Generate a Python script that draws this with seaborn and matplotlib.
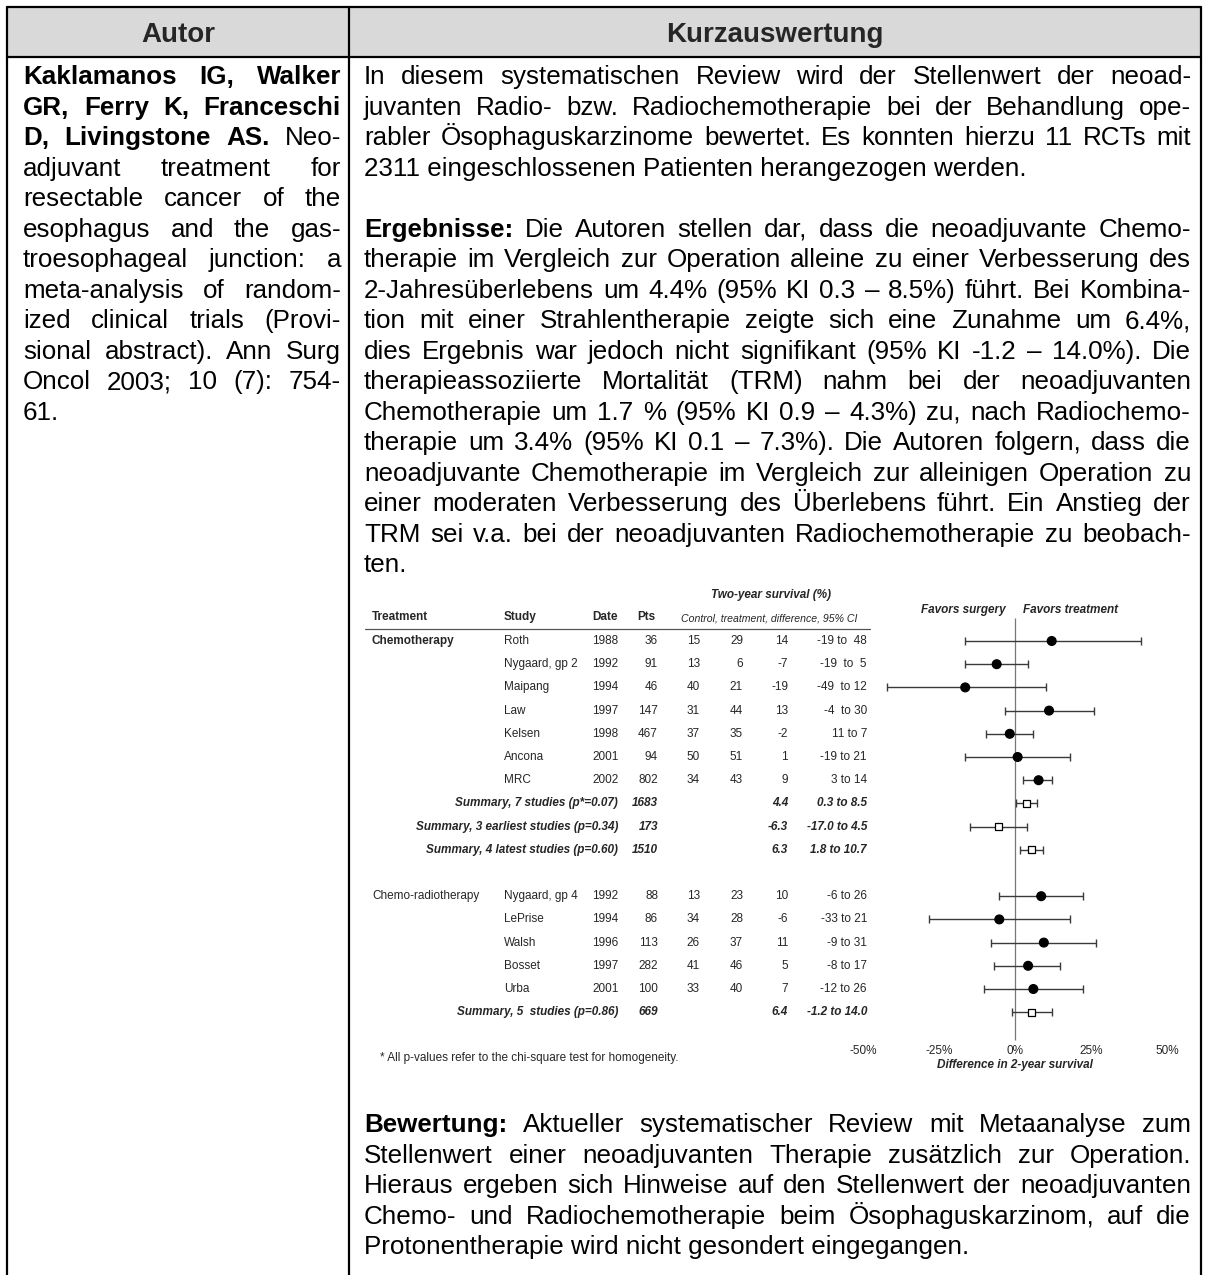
import numpy as np
import pandas as pd
import matplotlib
matplotlib.use("Agg")
import matplotlib.pyplot as plt
import matplotlib.transforms as mtransforms
from matplotlib.patches import Rectangle
import seaborn as sns

sns.set_theme(style="white")
plt.rcParams["font.family"] = ["Liberation Sans", "DejaVu Sans"]

# ---------------- forest plot data: two-year survival (%) ----------------
group_labels = ["Chemotherapy", "Chemo-radiotherapy"]
group_rows = [0, 11]
studies = ["Roth", "Nygaard, gp 2", "Maipang", "Law", "Kelsen", "Ancona", "MRC",
           "Summary, 7 studies (p*=0.07)", "Summary, 3 earliest studies (p=0.34)",
           "Summary, 4 latest studies (p=0.60)",
           "Nygaard, gp 4", "LePrise", "Walsh", "Bosset", "Urba",
           "Summary, 5  studies (p=0.86)"]
is_summary = [False] * 7 + [True] * 3 + [False] * 5 + [True]
rows = [0, 1, 2, 3, 4, 5, 6, 7, 8, 9, 11, 12, 13, 14, 15, 16]
years = ["1988", "1992", "1994", "1997", "1998", "2001", "2002", "", "", "",
         "1992", "1994", "1996", "1997", "2001", ""]
patients = ["36", "91", "46", "147", "467", "94", "802", "1683", "173", "1510",
            "88", "86", "113", "282", "100", "669"]
control = ["15", "13", "40", "31", "37", "50", "34", "", "", "",
           "13", "34", "26", "41", "33", ""]
treated = ["29", "6", "21", "44", "35", "51", "43", "", "", "",
           "23", "28", "37", "46", "40", ""]
difference = [14, -7, -19, 13, -2, 1, 9, 4.4, -6.3, 6.3, 10, -6, 11, 5, 7, 6.4]
ci_low = [-19, -19, -49, -4, -11, -19, 3, 0.3, -17.0, 1.8, -6, -33, -9, -8, -12, -1.2]
ci_high = [48, 5, 12, 30, 7, 21, 14, 8.5, 4.5, 10.7, 26, 21, 31, 17, 26, 14.0]
ci_text = ["-19 to  48", "-19  to  5", "-49  to 12", "-4  to 30", "11 to 7",
           "-19 to 21", "3 to 14", "0.3 to 8.5", "-17.0 to 4.5", "1.8 to 10.7",
           "-6 to 26", "-33 to 21", "-9 to 31", "-8 to 17", "-12 to 26",
           "-1.2 to 14.0"]
diff_text = ["14", "-7", "-19", "13", "-2", "1", "9", "4.4", "-6.3", "6.3",
             "10", "-6", "11", "5", "7", "6.4"]
axis_ticks = [-50, -25, 0, 25, 50]
axis_tick_labels = ["-50%", "-25%", "0%", "25%", "50%"]

# ---------------- document text ----------------
header_left = "Autor"
header_right = "Kurzauswertung"

left_lines = [
    [("Kaklamanos IG, Walker", True)],
    [("GR, Ferry K, Franceschi", True)],
    [("D, Livingstone AS.", True), ("Neo-", False)],
    [("adjuvant treatment for", False)],
    [("resectable cancer of the", False)],
    [("esophagus and the gas-", False)],
    [("troesophageal junction: a", False)],
    [("meta-analysis of random-", False)],
    [("ized clinical trials (Provi-", False)],
    [("sional abstract). Ann Surg", False)],
    [("Oncol 2003; 10 (7): 754-", False)],
    [("61.", False)],
]

para_intro = [
    [("In diesem systematischen Review wird der Stellenwert der neoad-", False)],
    [("juvanten Radio- bzw. Radiochemotherapie bei der Behandlung ope-", False)],
    [("rabler Ösophaguskarzinome bewertet. Es konnten hierzu 11 RCTs mit", False)],
    [("2311 eingeschlossenen Patienten herangezogen werden.", False)],
]
para_results = [
    [("Ergebnisse:", True), ("Die Autoren stellen dar, dass die neoadjuvante Chemo-", False)],
    [("therapie im Vergleich zur Operation alleine zu einer Verbesserung des", False)],
    [("2-Jahresüberlebens um 4.4% (95% KI 0.3 – 8.5%) führt. Bei Kombina-", False)],
    [("tion mit einer Strahlentherapie zeigte sich eine Zunahme um 6.4%,", False)],
    [("dies Ergebnis war jedoch nicht signifikant (95% KI -1.2 – 14.0%). Die", False)],
    [("therapieassoziierte Mortalität (TRM) nahm bei der neoadjuvanten", False)],
    [("Chemotherapie um 1.7 % (95% KI 0.9 – 4.3%) zu, nach Radiochemo-", False)],
    [("therapie um 3.4% (95% KI 0.1 – 7.3%). Die Autoren folgern, dass die", False)],
    [("neoadjuvante Chemotherapie im Vergleich zur alleinigen Operation zu", False)],
    [("einer moderaten Verbesserung des Überlebens führt. Ein Anstieg der", False)],
    [("TRM sei v.a. bei der neoadjuvanten Radiochemotherapie zu beobach-", False)],
    [("ten.", False)],
]
para_rating = [
    [("Bewertung:", True), ("Aktueller systematischer Review mit Metaanalyse zum", False)],
    [("Stellenwert einer neoadjuvanten Therapie zusätzlich zur Operation.", False)],
    [("Hieraus ergeben sich Hinweise auf den Stellenwert der neoadjuvanten", False)],
    [("Chemo- und Radiochemotherapie beim Ösophaguskarzinom, auf die", False)],
    [("Protonentherapie wird nicht gesondert eingegangen.", False)],
]

# ---------------- page layout ----------------
W, H = 1208, 1275
fig = plt.figure(figsize=(W / 100, H / 100), dpi=100)
page = fig.add_axes([0, 0, 1, 1])
page.set_xlim(0, W)
page.set_ylim(H, 0)
page.axis("off")

frame_l, frame_r, divider = 7, 1201, 349
frame_t, head_b = 7, 57
body_size = 18.7
head_size = 20.0
pitch = 30.5
baseline_shift = 9.3
first_line = 75

page.add_patch(Rectangle((frame_l, frame_t), frame_r - frame_l, head_b - frame_t,
                         facecolor="#d9d9d9", edgecolor="none", zorder=0))
lw = 1.6
page.plot([frame_l, frame_r], [frame_t, frame_t], color="black", lw=lw)
page.plot([frame_l, frame_r], [head_b, head_b], color="black", lw=lw)
for xv in (frame_l, divider, frame_r):
    page.plot([xv, xv], [frame_t, H], color="black", lw=lw)

page.text((frame_l + divider) / 2, 33 + baseline_shift, header_left, ha="center",
          va="baseline", fontsize=head_size, fontweight="bold")
page.text((divider + frame_r) / 2, 33 + baseline_shift, header_right, ha="center",
          va="baseline", fontsize=head_size, fontweight="bold")

renderer = fig.canvas.get_renderer()


def text_width(s, bold, size):
    t = page.text(0, 0, s, fontsize=size, fontweight="bold" if bold else "normal")
    w = t.get_window_extent(renderer).width
    t.remove()
    return w


space_w = text_width("x x", False, body_size) - text_width("xx", False, body_size)


def draw_line(segments, x0, x1, yc, justify):
    words = []
    for txt, bold in segments:
        for w in txt.split():
            words.append((w, bold))
    if not justify and all(not b for _, b in words):
        page.text(x0, yc + baseline_shift, " ".join(w for w, _ in words),
                  fontsize=body_size, va="baseline", color="black")
        return
    widths = [text_width(w, b, body_size) for w, b in words]
    if justify and len(words) > 1:
        gap = (x1 - x0 - sum(widths)) / (len(words) - 1)
    else:
        gap = space_w
    x = x0
    for (w, b), wd in zip(words, widths):
        page.text(x, yc + baseline_shift, w, fontsize=body_size, va="baseline",
                  fontweight="bold" if b else "normal", color="black")
        x += wd + gap


def draw_paragraph(lines, x0, x1, y_first):
    for i, seg in enumerate(lines):
        draw_line(seg, x0, x1, y_first + i * pitch, justify=(i < len(lines) - 1))


left_x0, left_x1 = 23, 341
right_x0, right_x1 = 364, 1191

draw_paragraph(left_lines, left_x0, left_x1, first_line)
draw_paragraph(para_intro, right_x0, right_x1, first_line)
draw_paragraph(para_results, right_x0, right_x1, first_line + 5 * pitch)
draw_paragraph(para_rating, right_x0, right_x1, 1123)

# ---------------- forest plot ----------------
zero_px, pct_px = 1015, 2.62
row0_px, row_px = 641, 23.2
ax_l, ax_r, ax_t, ax_b = 845, 1185, 600, 1043
fax = fig.add_axes([ax_l / W, 1 - ax_b / H, (ax_r - ax_l) / W, (ax_b - ax_t) / H])
fax.set_xlim((ax_l - zero_px) / pct_px, (ax_r - zero_px) / pct_px)
fax.set_ylim((ax_b - row0_px) / row_px, (ax_t - row0_px) / row_px)
fax.patch.set_alpha(0)

df = pd.DataFrame({
    "study": studies, "row": rows, "difference": difference,
    "low": ci_low, "high": ci_high,
    "kind": ["summary" if s else "study" for s in is_summary],
})

ink = "#262626"
fax.vlines(0, -1.0, 17.2, color="#777777", lw=0.9, zorder=1)
fax.errorbar(df["difference"], df["row"],
             xerr=[df["difference"] - df["low"], df["high"] - df["difference"]],
             fmt="none", ecolor="#3a3a3a", elinewidth=1.0, capsize=3.0,
             capthick=1.0, zorder=2)
sns.scatterplot(data=df, x="difference", y="row", hue="kind", style="kind",
                size="kind", sizes={"study": 40, "summary": 28},
                markers={"study": "o", "summary": "s"},
                palette={"study": "black", "summary": "white"},
                edgecolor="black", linewidth=0.9, legend=False, ax=fax, zorder=3)
fax.set_yticks([])
fax.set_xticks([])
fax.set_xlabel("")
fax.set_ylabel("")
sns.despine(ax=fax, left=True, bottom=True)

# the printed axis is spread a little wider than the plotted intervals
label_spread = 1.16
sec = fax.secondary_xaxis("bottom", functions=(lambda v: v / label_spread,
                                               lambda v: v * label_spread))
sec.set_xticks(axis_ticks)
sec.set_xticklabels(axis_tick_labels, fontsize=8.5, color=ink)
sec.tick_params(axis="x", length=0, pad=1.5)
sec.spines["bottom"].set_visible(False)
sec.set_xlabel("Difference in 2-year survival", fontsize=8.5, fontweight="bold",
               fontstyle="italic", color=ink, labelpad=1.5)

fav_y = (610 - row0_px) / row_px
fax.text(-3.5, fav_y, "Favors surgery", ha="right", va="center", fontsize=8.5,
         fontweight="bold", fontstyle="italic", color=ink)
fax.text(3.2, fav_y, "Favors treatment", ha="left", va="center", fontsize=8.5,
         fontweight="bold", fontstyle="italic", color=ink)

# table beside the forest plot: x in page pixels, y in forest rows
blend = mtransforms.blended_transform_factory(page.transData, fax.transData)
tsize = 8.5


def cell(x, r, s, ha="left", bold=False, italic=False, size=tsize):
    page.text(x, r, s, transform=blend, ha=ha, va="center", fontsize=size,
              fontweight="bold" if bold else "normal",
              fontstyle="italic" if italic else "normal", color=ink)


title_row = (595 - row0_px) / row_px
head_row = (617 - row0_px) / row_px
rule_row = (629 - row0_px) / row_px
cell(771, title_row, "Two-year survival (%)", ha="center", bold=True, italic=True)
cell(372, head_row, "Treatment", bold=True)
cell(504, head_row, "Study", bold=True)
cell(592, head_row, "Date", bold=True)
cell(637, head_row, "Pts", bold=True)
cell(681, head_row + 0.05, "Control, treatment, difference, 95% CI", italic=True, size=7.6)
page.plot([365, 870], [rule_row, rule_row], transform=blend, color="#555555", lw=0.9)

for lab, r, b in zip(group_labels, group_rows, [True, False]):
    cell(372, r, lab, bold=b)

for i, r in enumerate(rows):
    summ = is_summary[i]
    if summ:
        cell(618, r, studies[i], ha="right", bold=True, italic=True)
    else:
        cell(504, r, studies[i])
        cell(592, r, years[i])
        cell(700, r, control[i], ha="right")
        cell(743, r, treated[i], ha="right")
    cell(658, r, patients[i], ha="right", bold=summ, italic=summ)
    cell(788, r, diff_text[i], ha="right", bold=summ, italic=summ)
    cell(867, r, ci_text[i], ha="right", bold=summ, italic=summ)

page.text(380, 1058, "* All p-values refer to the chi-square test for homogeneity.",
          ha="left", va="center", fontsize=tsize, color=ink)

fig.savefig("out.png", dpi=100, facecolor="white")
